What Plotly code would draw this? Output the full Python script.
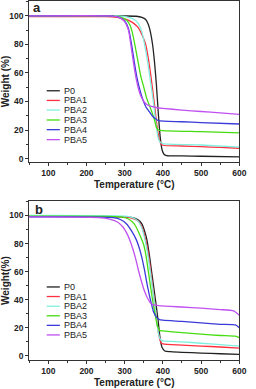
import plotly.graph_objects as go

names = ["P0", "PBA1", "PBA2", "PBA3", "PBA4", "PBA5"]
colors = ["#222222", "#ff3040", "#7ff0e0", "#44dd11", "#3a3ad8", "#c050f0"]

# Panel a
a_P0_T = [50, 300, 330, 345, 355, 362, 368, 373, 378, 383, 388, 393, 398, 403, 410, 450, 500, 600]
a_P0_W = [100, 100, 99.8, 99, 97.5, 94, 88, 80, 68, 52, 32, 15, 6, 3, 2, 1.8, 1.6, 1.2]
a_PBA1_T = [50, 250, 280, 300, 320, 335, 345, 355, 362, 370, 378, 385, 390, 395, 400, 450, 500, 550, 600]
a_PBA1_W = [99.5, 99.5, 99, 98, 95.5, 92, 87, 80, 70, 55, 38, 22, 14, 10.5, 9.3, 8.8, 8.3, 7.8, 7.2]
a_PBA2_T = [50, 280, 310, 325, 335, 345, 352, 360, 368, 376, 383, 388, 393, 400, 500, 600]
a_PBA2_W = [100, 100, 99, 97.5, 95, 89, 80, 68, 53, 38, 22, 14, 11.5, 10.5, 9.5, 8]
a_PBA3_T = [50, 260, 290, 305, 315, 322, 328, 335, 342, 350, 358, 365, 372, 378, 383, 388, 400, 500, 600]
a_PBA3_W = [100, 100, 99, 97, 93, 86, 78, 68, 58, 50, 42, 37, 32, 27, 22, 20, 19.5, 18.8, 18]
a_PBA4_T = [50, 260, 285, 300, 310, 318, 325, 332, 340, 348, 356, 364, 372, 380, 388, 450, 500, 600]
a_PBA4_W = [100, 100, 99, 96.5, 91, 80, 68, 57, 48, 41, 36, 33, 30, 28, 26.5, 25.8, 25.2, 24.2]
a_PBA5_T = [50, 260, 285, 300, 310, 316, 322, 328, 335, 342, 350, 360, 370, 382, 400, 450, 500, 550, 600]
a_PBA5_W = [100, 100, 99, 96, 90, 80, 69, 59, 50, 44, 40, 37.5, 36.5, 35.8, 35.2, 34, 33, 32, 31]

# Panel b
b_P0_T = [50, 300, 320, 335, 345, 352, 358, 364, 370, 376, 382, 388, 393, 398, 405, 420, 450, 500, 550, 600]
b_P0_W = [99.5, 99, 98.5, 97, 94, 89, 83, 73, 61, 49, 37, 24, 12, 6, 3.5, 3, 2.5, 2, 1.5, 1]
b_PBA1_T = [50, 300, 320, 335, 345, 352, 360, 366, 372, 378, 384, 390, 395, 400, 450, 500, 550, 600]
b_PBA1_W = [99.5, 99, 98, 96, 92, 86, 76, 65, 52, 39, 25, 14, 9.5, 8.5, 7.7, 7, 6.3, 5.5]
b_PBA2_T = [50, 300, 320, 335, 345, 352, 360, 366, 372, 378, 384, 389, 394, 400, 450, 500, 550, 600]
b_PBA2_W = [100, 99.5, 98.5, 96, 91, 84, 73, 62, 50, 38, 25, 15, 11.5, 10.7, 10, 9, 8, 7]
b_PBA3_T = [50, 290, 310, 325, 335, 343, 350, 356, 362, 368, 374, 380, 386, 392, 400, 450, 500, 550, 590, 600]
b_PBA3_W = [99.5, 99, 97.5, 94, 89, 84, 79, 71, 60, 49, 38, 29, 21, 18, 17.8, 16.5, 15.5, 14.5, 14, 13]
b_PBA4_T = [50, 270, 290, 305, 318, 330, 338, 345, 352, 358, 364, 370, 376, 382, 390, 400, 450, 500, 550, 590, 600]
b_PBA4_W = [99, 98.5, 97, 94, 89, 83, 77, 70, 61, 52, 44, 37, 31, 28, 26, 25.4, 24.5, 23.5, 22.5, 22, 20]
b_PBA5_T = [50, 230, 260, 280, 295, 308, 318, 328, 336, 344, 352, 360, 368, 376, 390, 450, 500, 550, 585, 600]
b_PBA5_W = [99, 98.5, 97.5, 95.5, 92, 86, 79, 70, 61, 53, 46, 41, 37.5, 36.3, 35.8, 34.8, 34, 33, 32, 29]

a_T = [a_P0_T, a_PBA1_T, a_PBA2_T, a_PBA3_T, a_PBA4_T, a_PBA5_T]
a_W = [a_P0_W, a_PBA1_W, a_PBA2_W, a_PBA3_W, a_PBA4_W, a_PBA5_W]
b_T = [b_P0_T, b_PBA1_T, b_PBA2_T, b_PBA3_T, b_PBA4_T, b_PBA5_T]
b_W = [b_P0_W, b_PBA1_W, b_PBA2_W, b_PBA3_W, b_PBA4_W, b_PBA5_W]

x_ticks = [100, 200, 300, 400, 500, 600]
y_ticks = [0, 20, 40, 60, 80, 100]

W, H = 256, 389
FONT = "Arial, Liberation Sans, sans-serif"

fig = go.Figure()
for i, n in enumerate(names):
    fig.add_trace(go.Scatter(x=a_T[i], y=a_W[i], mode="lines", name=n, showlegend=False,
                             line=dict(color=colors[i], width=1.3, shape="spline", smoothing=0.6),
                             xaxis="x", yaxis="y"))
for i, n in enumerate(names):
    fig.add_trace(go.Scatter(x=b_T[i], y=b_W[i], mode="lines", name=n, showlegend=False,
                             line=dict(color=colors[i], width=1.3, shape="spline", smoothing=0.6),
                             xaxis="x2", yaxis="y2"))

def px_x(p):
    return p / W

def px_y(p):
    return 1 - p / H

xdom = [px_x(30), px_x(246)]
ax_common = dict(showline=True, linecolor="#333333", linewidth=1, mirror=True,
                 ticks="outside", ticklen=3, tickcolor="#333333", showgrid=False, zeroline=False,
                 tickfont=dict(family=FONT, size=8.5, color="#222222", weight="bold"))
title_font = dict(family=FONT, size=10, color="#222222", weight="bold")

fig.update_layout(
    width=W, height=H, margin=dict(l=0, r=0, t=0, b=0),
    paper_bgcolor="white", plot_bgcolor="white",
    xaxis=dict(domain=xdom, range=[50, 600], tickvals=x_ticks, anchor="y",
               minor=dict(ticks="outside", ticklen=2, dtick=50, tick0=50, tickcolor="#333333"),
               title=dict(text="Temperature (°C)", standoff=3, font=title_font),
               **ax_common),
    yaxis=dict(domain=[px_y(162.5), px_y(1)], range=[-2.5, 110.5], tickvals=y_ticks, anchor="x",
               minor=dict(ticks="outside", ticklen=2, dtick=10, tickcolor="#333333"),
               title=dict(text="Weight (%)", standoff=2, font=title_font),
               **ax_common),
    xaxis2=dict(domain=xdom, range=[50, 600], tickvals=x_ticks, anchor="y2",
                minor=dict(ticks="outside", ticklen=2, dtick=50, tick0=50, tickcolor="#333333"),
                title=dict(text="Temperature (°C)", standoff=3, font=title_font),
                **ax_common),
    yaxis2=dict(domain=[px_y(361), px_y(201.7)], range=[-3, 110.2], tickvals=y_ticks, anchor="x2",
                minor=dict(ticks="outside", ticklen=2, dtick=10, tickcolor="#333333"),
                title=dict(text="Weight(%)", standoff=2, font=title_font),
                **ax_common),
)

# Panel labels
fig.add_annotation(x=px_x(32), y=px_y(8), xref="paper", yref="paper", text="a", showarrow=False,
                   xanchor="left", yanchor="middle", font=dict(family=FONT, size=13, color="#222222", weight="bold"))
fig.add_annotation(x=px_x(34), y=px_y(210), xref="paper", yref="paper", text="b", showarrow=False,
                   xanchor="left", yanchor="middle", font=dict(family=FONT, size=13, color="#222222", weight="bold"))

# Legend keys
leg_a_y = [91, 100.7, 110.3, 120.3, 130, 140]
leg_b_y = [287.7, 297.3, 307, 316.6, 326.2, 335.8]
for ys in (leg_a_y, leg_b_y):
    for i, n in enumerate(names):
        fig.add_shape(type="line", xref="paper", yref="paper",
                      x0=px_x(48), x1=px_x(61.5), y0=px_y(ys[i]), y1=px_y(ys[i]),
                      line=dict(color=colors[i], width=1.3))
        fig.add_annotation(x=px_x(63.5), y=px_y(ys[i]), xref="paper", yref="paper", text=n,
                           showarrow=False, xanchor="left", yanchor="middle",
                           font=dict(family=FONT, size=9, color="#222222"))

fig.write_html("out.html", config={"displayModeBar": False},
               post_script="document.body.style.margin='0';document.body.style.padding='0';")
